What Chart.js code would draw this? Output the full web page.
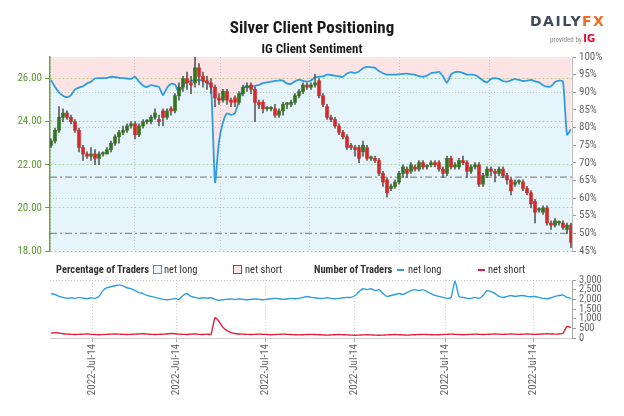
<!DOCTYPE html>
<html><head><meta charset="utf-8">
<script src="https://cdn.jsdelivr.net/npm/chart.js@4/dist/chart.umd.min.js"></script>
<style>
html,body{margin:0;padding:0;background:#fff;}
body{width:624px;height:416px;position:relative;overflow:hidden;font-family:"Liberation Sans Narrow","Roboto Condensed",Roboto,sans-serif;}
canvas{position:absolute;left:0;top:0;}
#title{position:absolute;top:17px;left:0;width:624px;text-align:center;font-size:17px;font-weight:bold;color:#1a1a1a;}
#sub{position:absolute;top:41px;left:0;width:624px;text-align:center;font-size:13px;font-weight:bold;color:#1a1a1a;}
#logo{position:absolute;left:530px;top:13px;font-family:"DejaVu Sans",sans-serif;font-weight:bold;font-size:14px;letter-spacing:1.5px;}
#logo .d{color:#414c58}#logo .fx{color:#f26b21}
#prov{position:absolute;left:550px;top:33px;font-size:7px;color:#8a8a8a;}
#prov b{font-family:"DejaVu Sans",sans-serif;color:#e4002b;font-size:10px;}
.lg{position:absolute;top:264px;font-size:10.5px;line-height:12px;color:#333;white-space:nowrap;}
.box{position:absolute;top:265px;width:7px;height:7px;border:1.5px solid;}
.ln{position:absolute;top:269px;width:7px;height:2px;}
</style></head>
<body>
<canvas id="top" width="624" height="416"></canvas>
<canvas id="bot" width="624" height="416"></canvas>
<div id="title">Silver Client Positioning</div>
<div id="sub">IG Client Sentiment</div>
<div id="logo"><span class="d">DAILY</span><span class="fx">FX</span></div>
<div id="prov">provided by <b>IG</b></div>
<div class="lg" style="left:56px;font-weight:bold">Percentage of Traders</div>
<div class="box" style="left:153px;border-color:#2d9de0;background:#e6f3fc"></div>
<div class="lg" style="left:164px">net long</div>
<div class="box" style="left:233px;border-color:#d42a2a;background:#fde4e4"></div>
<div class="lg" style="left:245px">net short</div>
<div class="lg" style="left:314px;font-weight:bold">Number of Traders</div>
<div class="ln" style="left:397px;background:#2d9de0"></div>
<div class="lg" style="left:408px">net long</div>
<div class="ln" style="left:478px;background:#e0203a"></div>
<div class="lg" style="left:488px">net short</div>
<script>
const candleOpen = [
22.9,23.1,23.6,24.2,24.4,24.2,24.0,23.6,22.8,22.5,
22.4,22.5,22.3,22.5,22.5,22.7,23.0,23.3,23.5,23.6,
23.8,23.9,23.4,23.8,24.0,24.0,24.2,24.1,24.5,24.2,
24.6,24.5,25.2,25.6,26.0,25.8,25.8,26.5,26.1,25.9,
25.8,25.6,25.1,25.0,25.4,25.0,25.1,24.9,25.3,25.6,
25.7,25.5,24.9,24.9,24.6,24.6,24.6,24.3,24.5,24.8,
24.8,24.9,25.2,25.4,25.7,25.6,25.7,25.9,25.2,24.7,
24.2,24.1,23.8,23.5,23.3,22.9,22.8,22.8,22.6,22.8,
22.3,22.3,22.2,21.6,21.3,20.9,21.0,21.2,21.6,21.8,
21.7,21.9,21.8,22.1,21.9,22.0,22.1,22.1,21.8,21.6,
22.3,21.9,21.9,22.2,22.1,21.7,21.9,22.0,21.1,21.5,
21.8,21.7,21.6,21.8,21.5,21.3,21.1,21.2,21.2,20.9,
20.7,20.3,19.9,19.8,20.0,19.3,19.2,19.3,19.3,19.0,
19.2];
const candleClose = [
23.1,23.6,24.2,24.4,24.2,24.0,23.6,22.8,22.5,22.4,
22.5,22.3,22.5,22.5,22.7,23.0,23.3,23.5,23.6,23.8,
23.9,23.4,23.8,24.0,24.0,24.2,24.4,24.0,24.2,24.5,
24.5,25.2,25.6,26.0,25.8,25.7,26.5,26.1,25.9,25.8,
25.6,25.1,25.0,25.4,25.0,24.9,24.9,25.3,25.6,25.6,
25.5,24.9,24.8,24.6,24.6,24.6,24.3,24.5,24.8,24.8,
24.9,25.2,25.4,25.7,25.6,25.7,25.8,25.2,24.8,24.2,
24.1,23.8,23.5,23.3,22.8,22.8,22.7,22.3,22.9,22.3,
22.3,22.2,21.6,21.2,20.7,21.0,21.2,21.6,21.9,21.6,
22.0,21.8,22.1,21.9,21.9,22.1,22.0,21.8,21.6,22.3,
21.9,22.0,22.2,22.1,21.7,21.9,22.0,21.1,21.5,21.8,
21.7,21.6,21.8,21.5,21.3,20.8,21.2,21.2,20.9,20.7,
20.2,19.8,19.9,20.0,19.3,19.2,19.4,19.3,19.1,19.2,
18.4];
const candleHigh = [
23.2,23.7,24.7,24.6,24.5,24.3,24.1,23.7,22.9,22.6,
22.8,22.7,22.6,22.6,22.8,23.1,23.4,23.6,23.8,23.9,
24.0,24.0,23.9,24.1,24.1,24.3,24.6,24.3,24.6,24.6,
24.7,25.3,25.8,26.1,26.3,26.1,27.0,26.7,26.3,26.1,
26.0,25.7,25.3,25.5,25.5,25.1,25.2,25.4,25.7,25.8,
25.8,25.6,25.0,25.0,24.7,24.7,24.8,24.6,24.9,24.9,
25.0,25.3,25.5,25.8,25.8,25.8,26.2,26.0,25.3,24.8,
24.3,24.2,23.9,23.6,23.4,23.0,22.9,22.9,23.1,22.9,
22.4,22.4,22.3,21.7,21.4,21.1,21.3,21.7,22.0,21.9,
22.1,22.0,22.2,22.2,22.0,22.2,22.2,22.2,21.9,22.4,
22.4,22.1,22.3,22.4,22.2,22.0,22.1,22.1,21.6,21.9,
21.9,21.8,21.9,21.9,21.6,21.4,21.3,21.3,21.3,21.0,
20.8,20.4,20.0,20.1,20.1,19.4,19.5,19.4,19.4,19.3,
19.3];
const candleLow = [
22.8,23.0,23.5,24.0,24.1,23.9,23.5,22.6,22.2,22.3,
22.2,22.0,22.0,22.4,22.5,22.6,22.9,23.0,23.4,23.5,
23.7,23.2,23.3,23.7,23.9,23.9,24.1,23.8,23.8,24.1,
24.3,24.4,25.0,25.4,25.5,25.3,25.6,25.7,25.6,25.5,
25.3,24.7,24.8,24.9,24.8,24.7,24.7,24.8,25.2,25.4,
25.3,24.0,24.6,24.4,24.5,24.5,24.2,24.2,24.3,24.6,
24.7,24.8,25.1,25.3,25.5,25.5,25.6,25.1,24.7,24.1,
24.0,23.7,23.4,23.2,22.7,22.7,22.4,22.1,22.4,22.2,
22.2,22.1,21.5,21.0,20.5,20.8,20.9,21.1,21.4,21.4,
21.6,21.7,21.7,21.8,21.8,21.9,21.9,21.7,21.4,21.5,
21.8,21.8,21.8,22.0,21.4,21.6,21.8,21.0,21.0,21.4,
21.5,21.2,21.5,21.4,21.1,20.6,21.0,21.1,20.8,20.6,
20.0,19.3,19.8,19.7,19.2,19.0,19.1,19.2,19.0,18.8,
18.15];
const longPct = [
93.5,91.5,90.0,89.0,88.6,89.2,90.8,91.3,91.7,92.5,
93.0,93.9,94.0,94.0,94.1,94.4,94.3,94.1,94.0,93.9,
93.8,94.4,93.0,91.9,91.5,92.0,91.8,91.5,89.2,91.3,
92.4,92.2,89.8,92.1,92.9,93.2,93.4,93.5,93.2,92.8,
91.8,64.5,76.0,81.5,84.0,83.6,84.1,87.5,91.3,91.5,
91.5,91.8,92.1,92.6,92.8,93.0,93.2,93.4,93.3,92.5,
92.4,93.1,93.6,93.2,93.0,93.3,94.3,94.4,94.5,95.0,
94.9,94.7,94.5,94.4,95.3,95.7,95.5,95.9,96.8,97.2,
97.1,96.9,96.0,95.4,95.0,95.0,95.0,95.1,95.2,95.3,
95.1,94.9,94.6,94.4,94.7,95.4,95.6,95.8,94.5,92.7,
95.0,95.7,95.8,95.5,95.0,95.0,94.9,94.2,93.3,92.8,
93.8,94.0,93.8,93.2,93.0,93.4,93.7,93.5,93.2,93.3,
93.5,93.1,92.8,92.0,91.6,91.7,92.9,93.3,93.0,78.0,
79.5];
const longCount = [
2300,2250,2150,2100,2050,2080,2050,2100,2060,2030,
2080,2050,2150,2450,2600,2650,2700,2750,2700,2600,
2550,2450,2350,2300,2200,2150,2100,2050,2000,1980,
2000,2050,2000,2200,2300,2150,2100,2050,2080,2060,
2080,2000,1950,1980,2000,2020,2000,2020,2000,1980,
2000,2020,2000,1980,2000,2030,2050,2030,2000,2020,
2050,2030,2050,2100,2150,2100,2080,2050,2050,2080,
2050,2030,2050,2080,2100,2100,2200,2400,2550,2500,
2550,2450,2500,2300,2150,2200,2250,2300,2250,2350,
2450,2500,2450,2500,2400,2300,2200,2150,2100,2050,
2100,2950,2150,2100,2050,2050,2100,2050,2200,2450,
2400,2300,2150,2100,2150,2200,2150,2180,2200,2150,
2130,2150,2100,2050,2030,2080,2150,2200,2220,2100,
2050];
const shortCount = [
250,280,260,220,200,190,180,190,200,210,
190,180,170,180,190,200,210,200,190,180,
190,200,210,220,200,190,180,190,200,210,
230,220,200,190,180,200,210,190,180,200,
190,1050,850,550,380,280,230,210,200,190,
180,190,200,190,180,170,180,190,200,190,
180,170,160,170,180,190,180,170,160,150,
160,170,180,170,160,150,140,150,160,170,
160,150,140,150,160,170,180,170,160,150,
160,170,180,190,180,170,160,170,180,190,
200,190,180,170,180,190,200,190,180,190,
200,210,200,190,200,210,200,190,200,210,
200,190,200,210,220,210,200,210,250,600,
540];
const priceTicks = [18, 20, 22, 24, 26];
const pctGridLevels = [90, 80, 60];
const countTicks = [0, 500, 1000, 1500, 2000, 2500, 3000];
const supportLevels = [21.43, 18.82];
const dateTickPos = [10.25, 31.25, 53.5, 75.75, 98.5, 120.5];
const dateTickLabels = ['2022-Jul-14','2022-Jul-14','2022-Jul-14','2022-Jul-14','2022-Jul-14','2022-Jul-14'];

const FONT = '"Liberation Sans Narrow","Roboto Condensed",Roboto,sans-serif';
const N = candleClose.length;
const idx = candleClose.map((_, i) => i);
const xMin = -0.25, xMax = N - 1 + 0.25;
const pctPts = idx.map(i => ({x: i, y: longPct[i]}));

new Chart(document.getElementById('top'), {
  type: 'bar',
  data: { datasets: [
    {type:'line', data: pctPts, yAxisID:'yPct', fill:'end', backgroundColor:'rgba(249,178,178,0.35)', borderWidth:0, pointRadius:0, order:20},
    {type:'line', data: pctPts, yAxisID:'yPct', fill:'start', backgroundColor:'rgba(184,224,246,0.35)', borderWidth:0, pointRadius:0, order:19},
    ...supportLevels.map(lv => ({type:'line', data:[{x:xMin,y:lv},{x:xMax,y:lv}], yAxisID:'yPrice', borderColor:'#8c8c8c', borderWidth:1.3, borderDash:[7,3,2,3], pointRadius:0, fill:false, order:8})),
    {type:'line', data: pctPts, yAxisID:'yPct', borderColor:'#2d9de0', borderWidth:1.8, pointRadius:0, fill:false, tension:0.2, order:5},
    {type:'bar', data: idx.map(i => ({x:i, y:[candleLow[i], candleHigh[i]]})), yAxisID:'yPrice', backgroundColor:'#5c5c5c', barThickness:1, grouped:false, order:3},
    {type:'bar', data: idx.map(i => ({x:i, y:[candleOpen[i], candleClose[i]]})), yAxisID:'yPrice', backgroundColor: idx.map(i => candleClose[i] >= candleOpen[i] ? '#347520' : '#d42a2a'), barThickness:3, minBarLength:1.5, grouped:false, order:2}
  ]},
  options: {
    responsive:false, animation:false,
    layout:{padding:{top:57, bottom:165, left:0, right:0}},
    plugins:{legend:{display:false}, tooltip:{enabled:false}},
    scales:{
      x:{type:'linear', min:xMin, max:xMax, offset:false,
        afterBuildTicks: s => { s.ticks = dateTickPos.map(v => ({value:v})); },
        afterFit: s => { s.height = 0; },
        ticks:{display:false},
        grid:{color:'#c4c4c4', lineWidth:1, drawTicks:false},
        border:{display:false, dash:[1,2]}},
      yPrice:{position:'left', min:18, max:27,
        afterBuildTicks: s => { s.ticks = priceTicks.map(v => ({value:v})); },
        afterFit: s => { s.width = 50; },
        ticks:{color:'#5d9a32', font:{family:FONT, size:11}, callback: v => Number(v).toFixed(2), padding:3},
        grid:{color:'#a3cf7a', tickLength:5, tickColor:'#6aa03c'},
        border:{color:'#6aa03c', width:1.5, dash:[2,2]}},
      yPct:{position:'right', min:45, max:100,
        afterFit: s => { s.width = 52; },
        ticks:{stepSize:5, color:'#666', font:{family:FONT, size:11}, callback: v => v + '%', padding:3},
        grid:{color: c => (c.tick && pctGridLevels.includes(c.tick.value)) ? '#c4c4c4' : 'rgba(0,0,0,0)', tickLength:4, tickColor:'#999'},
        border:{color:'#bbb', dash:[1,2]}}
    }
  }
});

new Chart(document.getElementById('bot'), {
  type: 'line',
  data: { datasets: [
    {data: idx.map(i => ({x:i, y:longCount[i]})), borderColor:'#2d9de0', borderWidth:1.4, pointRadius:0, fill:false, tension:0.2},
    {data: idx.map(i => ({x:i, y:shortCount[i]})), borderColor:'#e0203a', borderWidth:1.4, pointRadius:0, fill:false, tension:0.2}
  ]},
  options: {
    responsive:false, animation:false,
    layout:{padding:{top:280, bottom:0, left:50, right:0}},
    plugins:{legend:{display:false}, tooltip:{enabled:false}},
    scales:{
      x:{type:'linear', min:xMin, max:xMax, offset:false,
        afterBuildTicks: s => { s.ticks = dateTickPos.map(v => ({value:v})); },
        afterFit: s => { s.height = 78; },
        ticks:{color:'#666', font:{family:FONT, size:11}, minRotation:90, maxRotation:90, autoSkip:false, padding:2,
          callback: (v, i) => dateTickLabels[i]},
        grid:{color:'#cfcfcf', tickLength:4, tickColor:'#aaa'},
        border:{color:'#ccc', dash:[1,2]}},
      y:{position:'right', min:0, max:3000,
        afterBuildTicks: s => { s.ticks = countTicks.map(v => ({value:v})); },
        afterFit: s => { s.width = 52; },
        ticks:{color:'#666', font:{family:FONT, size:10.5}, autoSkip:false, padding:3},
        grid:{color: c => (c.tick && c.tick.value === 3000) ? '#c4c4c4' : 'rgba(0,0,0,0)', tickLength:4, tickColor:'#999'},
        border:{color:'#aaa', dash:[1,2]}}
    }
  }
});
</script>
</body></html>
